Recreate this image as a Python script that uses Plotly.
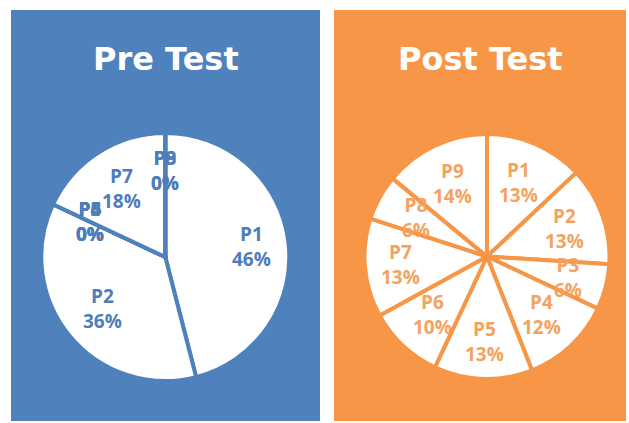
import math
import plotly.graph_objects as go

# ---- data ----
labels = ["P1", "P2", "P3", "P4", "P5", "P6", "P7", "P8", "P9"]
pre_values = [46, 36, 0, 0, 0, 0, 18, 0, 0]
post_values = [13, 13, 6, 12, 13, 10, 13, 6, 14]
panel_titles = ["Pre Test", "Post Test"]

# ---- styling / geometry ----
W, H = 629, 423
BLUE = "#4F81BD"
ORANGE = "#F79646"
BLUE_TXT = "#4E7DB9"
ORANGE_TXT = "#F4A260"

panels = [
    dict(x0=11, x1=320, y0=10, y1=421, color=BLUE, txt=BLUE_TXT,
         cx=165.3, cy=257.0, R=124.0, title_y=59),
    dict(x0=334, x1=626, y0=10, y1=421, color=ORANGE, txt=ORANGE_TXT,
         cx=487.0, cy=256.5, R=122.5, title_y=59),
]
series = [pre_values, post_values]

fig = go.Figure()
shapes = []
annotations = []


def label_radius(theta, R, hw=20.0, hh=24.0, k=0.92):
    s = abs(math.sin(theta))
    c = abs(math.cos(theta))
    b = 2 * (s * hw + c * hh)
    cc = hw * hw + hh * hh - (k * R) ** 2
    return (-b + math.sqrt(b * b - 4 * cc)) / 2


for p, vals, title in zip(panels, series, panel_titles):
    shapes.append(dict(type="rect", xref="paper", yref="paper", layer="below",
                       x0=p["x0"] / W, x1=p["x1"] / W,
                       y0=1 - p["y1"] / H, y1=1 - p["y0"] / H,
                       fillcolor=p["color"], line=dict(width=0)))
    R = p["R"]
    dom_x = [(p["cx"] - R) / W, (p["cx"] + R) / W]
    dom_y = [1 - (p["cy"] + R) / H, 1 - (p["cy"] - R) / H]
    fig.add_trace(go.Pie(
        labels=labels, values=vals, sort=False, direction="clockwise",
        rotation=0, textinfo="none", hoverinfo="label+percent",
        marker=dict(colors=["white"] * len(labels),
                    line=dict(color=p["color"], width=4)),
        domain=dict(x=dom_x, y=dom_y), showlegend=False,
    ))
    total = sum(vals)
    cum = 0
    Rv = R - 2
    for lab, v in zip(labels, vals):
        mid = (cum + v / 2) / total * 2 * math.pi
        cum += v
        r = label_radius(mid, Rv)
        x = p["cx"] + r * math.sin(mid)
        y = p["cy"] - r * math.cos(mid)
        annotations.append(dict(
            x=x / W, y=1 - y / H, xref="paper", yref="paper",
            text=f"<b>{lab}<br>{round(100 * v / total)}%</b>",
            showarrow=False, xanchor="center", yanchor="middle", align="center",
            font=dict(family="Open Sans", size=19, color=p["txt"])))
    annotations.append(dict(
        x=((p["x0"] + p["x1"]) / 2) / W, y=1 - p["title_y"] / H,
        xref="paper", yref="paper", text=f"<b>{title}</b>", showarrow=False,
        xanchor="center", yanchor="middle",
        font=dict(family="DejaVu Sans", size=32, color="white")))

fig.update_layout(
    width=W, height=H, margin=dict(l=0, r=0, t=0, b=0),
    paper_bgcolor="white", plot_bgcolor="white",
    shapes=shapes, annotations=annotations, showlegend=False,
)

fig.write_html("out.html", config={"displayModeBar": False},
               post_script="document.body.style.margin='0';"
                           "document.body.style.overflow='hidden';")
